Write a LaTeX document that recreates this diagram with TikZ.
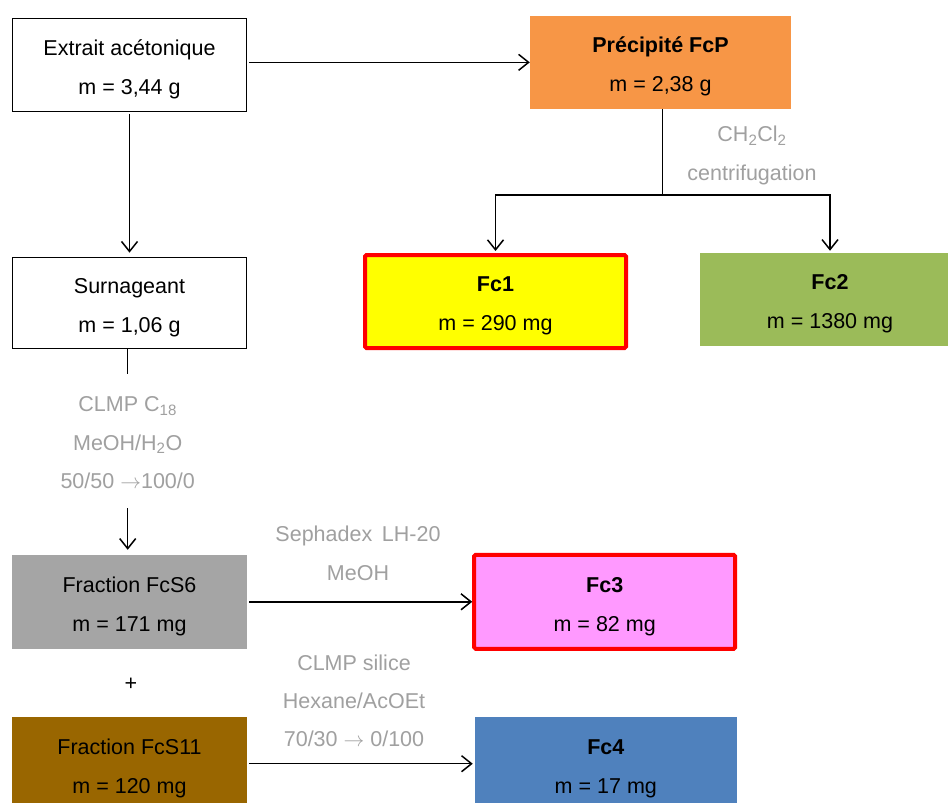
\documentclass[tikz,border=0pt]{standalone}
\usepackage{fontspec}
\setmainfont{Liberation Sans}
\usetikzlibrary{arrows.meta}
\definecolor{cOrange}{HTML}{F79646}
\definecolor{cYellow}{HTML}{FFFF00}
\definecolor{cRed}{HTML}{FF0000}
\definecolor{cGreen}{HTML}{9BBB59}
\definecolor{cGray}{HTML}{A5A5A5}
\definecolor{cBrown}{HTML}{996600}
\definecolor{cPink}{HTML}{FF99FF}
\definecolor{cBlue}{HTML}{4F81BD}
\definecolor{cLabel}{HTML}{A0A0A0}
\newcommand{\twol}[2]{\rule{0pt}{24.6pt}#1\\#2\rule[-5pt]{0pt}{5pt}}
\newcommand{\rarr}{\ensuremath{\rightarrow}}
\tikzset{
  box/.style={rectangle, inner sep=0pt, align=center, font=\fontsize{21.5}{39}\selectfont},
  plainbox/.style={box, draw=black, line width=1.3pt, fill=white},
  redbox/.style={box, draw=cRed, line width=4pt, rounded corners=1.5pt},
  fillbox/.style={box, draw=none},
  lbl/.style={anchor=base, inner sep=0pt, text=cLabel, font=\fontsize{21.5}{26}\selectfont},
  arr/.style={line width=1.5pt, -{Straight Barb[length=10pt,width=16pt,line width=1.5pt]}},
  ln/.style={line width=1.5pt}
}
\begin{document}
\begin{tikzpicture}[x=1pt,y=-1pt]
\clip (0,0) rectangle (948,803);
\fill[white] (0,0) rectangle (948,803);
% boxes
\node[plainbox, minimum width=234pt, minimum height=93pt] (ext) at (129.5,64.7) {\twol{Extrait acétonique}{m = 3,44 g}};
\node[fillbox, fill=cOrange, minimum width=261pt, minimum height=92.7pt] (prec) at (660.5,62.35) {\twol{\textbf{Précipité FcP}}{m = 2,38 g}};
\node[redbox, fill=cYellow, minimum width=261pt, minimum height=93pt] (fc1) at (495.5,301.5) {\twol{\textbf{Fc1}}{m = 290 mg}};
\node[fillbox, fill=cGreen, minimum width=260pt, minimum height=92.7pt] (fc2) at (830,299.3) {\twol{\textbf{Fc2}}{m = 1380 mg}};
\node[plainbox, minimum width=234pt, minimum height=91pt] (sur) at (129.5,302.8) {\twol{Surnageant}{m = 1,06 g}};
\node[fillbox, fill=cGray, minimum width=235pt, minimum height=93.7pt] (fcs6) at (129.5,601.8) {\twol{Fraction FcS6}{m = 171 mg}};
\node[redbox, fill=cPink, minimum width=261pt, minimum height=94pt] (fc3) at (604.7,601.8) {\twol{\textbf{Fc3}}{m = 82 mg}};
\node[fillbox, fill=cBrown, minimum width=235pt, minimum height=93pt] (fcs11) at (129.5,763.7) {\twol{Fraction FcS11}{m = 120 mg}};
\node[fillbox, fill=cBlue, minimum width=261.7pt, minimum height=93pt] (fc4) at (605.8,763.7) {\twol{\textbf{Fc4}}{m = 17 mg}};
\node[inner sep=0pt, font=\fontsize{21.5}{26}\selectfont] (plus) at (131,684) {+};
% labels
\node[lbl] (l1) at (752,141.7) {CH\textsubscript{2}Cl\textsubscript{2}};
\node[lbl] (l2) at (752,180) {centrifugation};
\node[lbl] (l3) at (127.7,411.7) {CLMP C\textsubscript{18}};
\node[lbl] (l4) at (127.7,450) {MeOH/H\textsubscript{2}O};
\node[lbl] (l5) at (127.7,488) {50/50 \rarr100/0};
\node[lbl] (l6) at (358,541.7) {Sephadex\hspace{0.45em}LH-20};
\node[lbl] (l7) at (358,580) {MeOH};
\node[lbl] (l8) at (354,670) {CLMP silice};
\node[lbl] (l9) at (354,708.3) {Hexane/AcOEt};
\node[lbl] (l10) at (354,746.7) {70/30 \rarr\ 0/100};
% coordinates
\coordinate (split) at (662.7,195);
\coordinate (surend) at (127.7,374);
\coordinate (s6start) at (127.7,508);
% connectors
\draw[arr, shorten <=2pt] (ext.east |- prec.west) -- (prec.west);
\draw[arr, shorten <=2pt, shorten >=4pt] (ext.south) -- (sur.north);
\draw[ln] (prec.south -| split) -- (split);
\draw[arr, shorten >=2pt] (split) -| (fc1.north);
\draw[arr, shorten >=2pt] (split) -| (fc2.north);
\draw[ln] (sur.south -| surend) -- (surend);
\draw[arr, shorten >=5pt] (s6start) -- (s6start |- fcs6.north);
\draw[arr, shorten <=2pt] (fcs6.east) -- (fc3.west);
\draw[arr, shorten <=2pt, shorten >=2pt] (fcs11.east) -- (fc4.west);
\end{tikzpicture}
\end{document}
